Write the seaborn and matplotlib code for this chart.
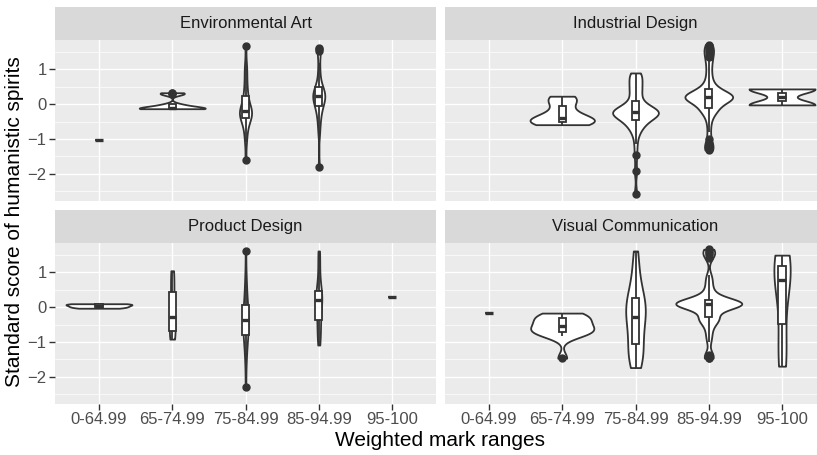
import numpy as np
import pandas as pd
import seaborn as sns
import matplotlib.pyplot as plt

faixas = ["0-64.99", "65-74.99", "75-84.99", "85-94.99", "95-100"]

# Environmental Art
ea_0_64 = [-1.03]
ea_65_74 = [-0.13, -0.13, -0.13, -0.13, -0.13, -0.12, -0.1, -0.07, -0.03, 0.0, 0.29, 0.31, 0.33]
ea_75_84 = [-1.61, -1.1, -0.9, -0.75, -0.6, -0.52, -0.45, -0.4, -0.36, -0.33, -0.3, -0.27, -0.25, -0.23,
            -0.21, -0.18, -0.15, -0.1, -0.05, 0.0, 0.1, 0.23, 0.3, 0.45, 0.6, 0.8, 1.0, 1.15, 1.68]
ea_85_94 = [-1.8, -0.85, -0.6, -0.45, -0.3, -0.2, -0.12, -0.06, 0.0, 0.05, 0.1, 0.14, 0.18, 0.2, 0.23,
            0.26, 0.3, 0.33, 0.37, 0.41, 0.45, 0.5, 0.6, 0.75, 0.95, 1.2, 1.52, 1.58, 1.63]
ea_95_100 = []

# Industrial Design
id_0_64 = []
id_65_74 = [-0.59, -0.57, -0.54, -0.5, -0.48, -0.45, -0.4, -0.35, -0.25, -0.06, 0.1, 0.18, 0.23]
id_75_84 = [-2.58, -1.93, -1.47, -1.15, -0.9, -0.78, -0.7, -0.64, -0.58, -0.54, -0.5, -0.48,
            -0.46,
            -0.4, -0.36, -0.33, -0.3, -0.28, -0.27, -0.26, -0.25, -0.245, -0.24, -0.235,
            -0.23,
            -0.225, -0.22, -0.21, -0.2, -0.19, -0.17, -0.15, -0.12, -0.08, -0.03, 0.04,
            0.1,
            0.2, 0.28, 0.35, 0.42, 0.48, 0.55, 0.62, 0.7, 0.78, 0.84, 0.88, 0.9]
id_85_94 = [-1.32, -1.3, -1.27, -1.22, -1.15, -1.0,
            -0.8, -0.6, -0.45, -0.35, -0.25, -0.2, -0.17, -0.15, -0.13, -0.12, -0.11,
            -0.06, 0.0, 0.05, 0.09, 0.12, 0.14, 0.15, 0.16, 0.17, 0.175, 0.18, 0.185, 0.19, 0.195,
            0.2, 0.2,
            0.205, 0.21, 0.215, 0.22, 0.225, 0.23, 0.24, 0.25, 0.26, 0.28, 0.3, 0.32, 0.35, 0.38,
            0.41, 0.44,
            0.48, 0.53, 0.6, 0.68, 0.78, 0.9, 1.02, 1.15, 1.25,
            1.35, 1.42, 1.5, 1.56, 1.62, 1.67, 1.72]
id_95_100 = [-0.02, 0.44]

# Product Design
pd_0_64 = [-0.03, 0.0, 0.03, 0.06, 0.09, 0.1]
pd_65_74 = [-0.92, -0.9, -0.88, -0.85, -0.75, -0.68, -0.6, -0.5, -0.4, -0.3, -0.24, -0.1, 0.1, 0.3,
            0.4, 0.5, 0.8, 0.95, 1.0, 1.05]
pd_75_84 = [-2.29, -1.7, -1.4, -1.2, -1.05, -0.95, -0.81, -0.75, -0.7, -0.62, -0.55, -0.45, -0.38,
            -0.3, -0.25, -0.18, -0.1, -0.02, 0.05, 0.2, 0.35, 0.5, 0.7, 1.0, 1.62]
pd_85_94 = [-1.09, -1.0, -0.85, -0.7, -0.6, -0.5, -0.38, -0.25, -0.1, 0.0, 0.08, 0.15, 0.21, 0.25,
            0.28, 0.32, 0.38, 0.42, 0.48, 0.6, 0.8, 1.0, 1.3, 1.5, 1.62]
pd_95_100 = [0.3]

# Visual Communication
vc_0_64 = [-0.18]
vc_65_74 = [-1.47, -0.82, -0.78, -0.74, -0.7, -0.66, -0.6, -0.55, -0.5, -0.42, -0.35, -0.3, -0.25,
            -0.2, -0.17]
vc_75_84 = [-1.74, -1.7, -1.6, -1.5, -1.4, -1.3, -1.2, -1.1, -0.98, -0.85, -0.72, -0.6, -0.48, -0.38,
            -0.3, -0.24, -0.15, -0.08, -0.02, 0.05, 0.12, 0.2, 0.28, 0.38, 0.5, 0.65, 0.85, 1.1, 1.4, 1.62]
vc_85_94 = [-1.47, -1.45, -1.42, -1.38,
            -1.0, -0.85, -0.72, -0.6, -0.5, -0.42, -0.38, -0.35, -0.33, -0.31, -0.3, -0.29,
            -0.2, -0.1, -0.03, 0.02, 0.04, 0.05, 0.06, 0.065, 0.07, 0.07, 0.075, 0.075, 0.08, 0.08,
            0.08,
            0.085, 0.09, 0.095, 0.1, 0.105, 0.11, 0.115, 0.12, 0.125, 0.13, 0.14, 0.15, 0.17, 0.19,
            0.21,
            0.24, 0.28, 0.33, 0.4, 0.48, 0.58, 0.7, 0.82, 0.92,
            1.42, 1.5, 1.56, 1.6, 1.64, 1.67]
vc_95_100 = [-1.7, -0.9, 0.72, 0.84, 1.3, 1.5]

paineis = [
    ("Environmental Art", [ea_0_64, ea_65_74, ea_75_84, ea_85_94, ea_95_100]),
    ("Industrial Design", [id_0_64, id_65_74, id_75_84, id_85_94, id_95_100]),
    ("Product Design", [pd_0_64, pd_65_74, pd_75_84, pd_85_94, pd_95_100]),
    ("Visual Communication", [vc_0_64, vc_65_74, vc_75_84, vc_85_94, vc_95_100]),
]


# largura de banda no estilo do R (nrd0)
def nrd0(kde):
    x = kde.dataset[0]
    sd = np.std(x, ddof=1)
    q75, q25 = np.percentile(x, [75, 25])
    lo = min(sd, (q75 - q25) / 1.34)
    if lo <= 0:
        lo = sd
    return 0.9 * lo * len(x) ** -0.2 / sd


plt.rcParams["font.family"] = "Liberation Sans"
fig = plt.figure(figsize=(8.17, 4.55), dpi=100)
W, H = 817, 455

# posicoes dos paineis em pixels (esquerda, direita, topo, base)
lados = [(55, 436), (445, 826)]
alturas = [(40, 201), (243, 404)]
cinza_linha = "#333333"

for i, (nome, grupos) in enumerate(paineis):
    linha, coluna = divmod(i, 2)
    x0, x1 = lados[coluna]
    y0, y1 = alturas[linha]
    ax = fig.add_axes([x0 / W, 1 - y1 / H, (x1 - x0) / W, (y1 - y0) / H])

    faixa = []
    escore = []
    for f, valores in zip(faixas, grupos):
        faixa += [f] * len(valores)
        escore += valores
    dados = pd.DataFrame({"faixa": faixa, "escore": escore})
    contagem = dados["faixa"].map(dados["faixa"].value_counts())
    dados_violino = dados[contagem >= 2]

    ax.set_facecolor("#EBEBEB")
    sns.violinplot(data=dados_violino, x="faixa", y="escore", order=faixas, ax=ax,
                   inner=None, cut=0, density_norm="area", width=0.9, bw_method=nrd0,
                   gridsize=512, color="white", linecolor=cinza_linha, linewidth=1.3,
                   saturation=1)
    sns.boxplot(data=dados, x="faixa", y="escore", order=faixas, ax=ax, width=0.1,
                color="white", linecolor=cinza_linha, linewidth=1.3, fliersize=5,
                saturation=1, showcaps=False,
                flierprops=dict(marker="o", markerfacecolor=cinza_linha,
                                markeredgecolor=cinza_linha),
                medianprops=dict(linewidth=2.4))

    ax.set_xlim(-0.6, 4.6)
    ax.set_ylim(-2.79, 1.85)
    ax.set_yticks([-2, -1, 0, 1])
    ax.set_yticks([-2.5, -1.5, -0.5, 0.5, 1.5], minor=True)
    ax.set_axisbelow(True)
    ax.grid(which="major", color="white", linewidth=1.0)
    ax.grid(which="minor", axis="y", color="white", linewidth=0.5)
    ax.set_xlabel("")
    ax.set_ylabel("")
    for s in ax.spines.values():
        s.set_visible(False)
    ax.tick_params(which="minor", length=0)
    ax.tick_params(which="major", color=cinza_linha, length=4, width=1,
                   labelsize=12, labelcolor="#4D4D4D", pad=2)
    if linha == 0:
        ax.tick_params(axis="x", length=0, labelbottom=False)
    if coluna == 1:
        ax.tick_params(axis="y", length=0, labelleft=False)

    # faixa do titulo do painel
    faixa_ax = fig.add_axes([x0 / W, 1 - y0 / H, (x1 - x0) / W, 33 / H])
    faixa_ax.set_facecolor("#D9D9D9")
    faixa_ax.set_xticks([])
    faixa_ax.set_yticks([])
    for s in faixa_ax.spines.values():
        s.set_visible(False)
    faixa_ax.text(0.5, 0.5, nome, ha="center", va="center", fontsize=12,
                  color="#1A1A1A", transform=faixa_ax.transAxes)

fig.text(440 / W, 1 - 440 / H, "Weighted mark ranges", ha="center", va="center", fontsize=15)
fig.text(15 / W, 1 - 222 / H, "Standard score of humanistic spirits", ha="center", va="center",
         rotation=90, fontsize=15)

fig.savefig("out.png", dpi=100)
